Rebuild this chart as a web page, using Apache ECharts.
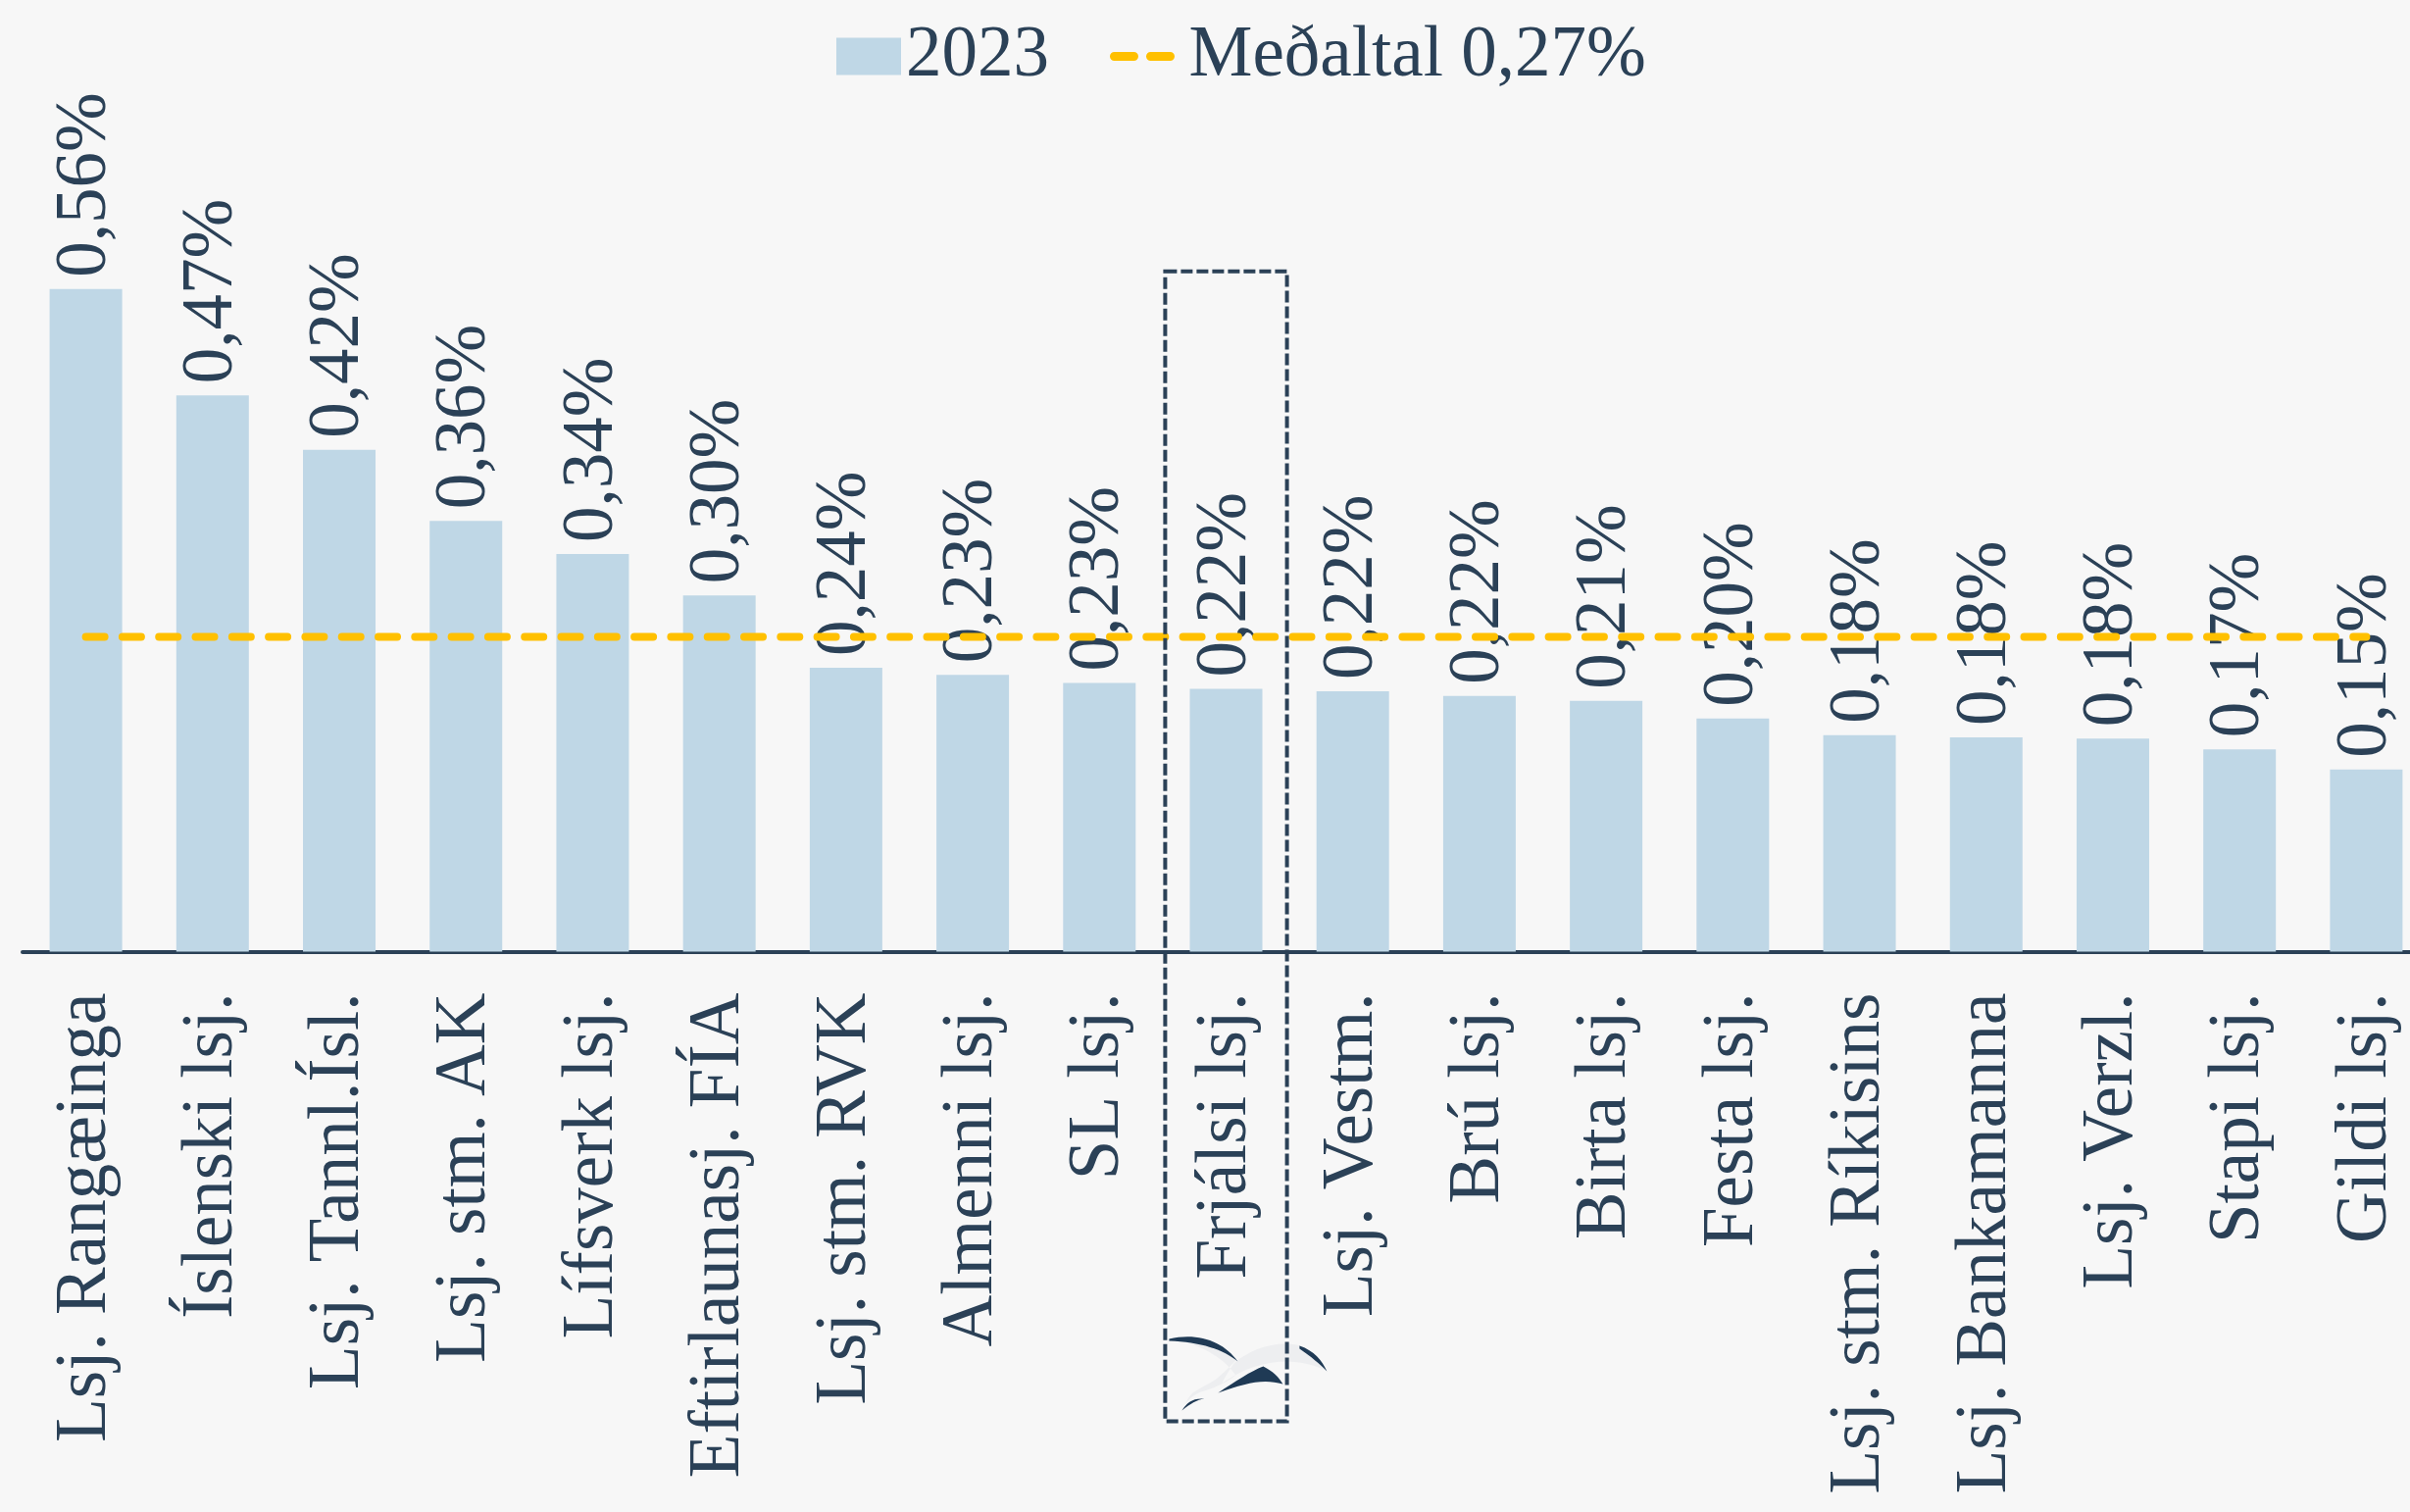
<!DOCTYPE html>
<html>
<head>
<meta charset="utf-8">
<script src="https://cdn.jsdelivr.net/npm/echarts@6/dist/echarts.min.js"></script>
<style>
  html, body { margin: 0; padding: 0; background: #f7f7f7; }
  #chart { width: 2458px; height: 1542px; }
</style>
</head>
<body>
<div id="chart"></div>
<script>
var categories = ['Lsj. Rangæinga', 'Íslenski lsj.', 'Lsj. Tannl.Ísl.', 'Lsj. stm. AK', 'Lífsverk lsj.',
  'Eftirlaunasj. FÍA', 'Lsj. stm. RVK', 'Almenni lsj.', 'SL lsj.', 'Frjálsi lsj.', 'Lsj. Vestm.',
  'Brú lsj.', 'Birta lsj.', 'Festa lsj.', 'Lsj. stm. Ríkisins', 'Lsj. Bankamanna', 'Lsj. Verzl.',
  'Stapi lsj.', 'Gildi lsj.'];
var values2023 = [0.56, 0.47, 0.424, 0.364, 0.336, 0.301, 0.24, 0.234, 0.227, 0.222, 0.22,
  0.216, 0.212, 0.197, 0.183, 0.181, 0.18, 0.171, 0.154];
var meanLine = [0.266, 0.266, 0.266, 0.266, 0.266, 0.266, 0.266, 0.266, 0.266, 0.266,
  0.266, 0.266, 0.266, 0.266, 0.266, 0.266, 0.266, 0.266, 0.266];
var barName = '2023';
var highlighted = 'Frjálsi lsj.';

var navy = '#2b4157';
var fontFamily = '"Liberation Serif", "Times New Roman", serif';

function pct(v) {
  return v.toFixed(2).replace('.', ',') + '%';
}
var meanName = 'Meðaltal ' + pct(meanLine[0]);

// logo pieces (two gulls), drawn at the foot of the highlighted column
echarts.graphic.registerShape('gullLight', echarts.graphic.extendPath(
  'M12,25 C40,20 66,28 80,47 C72,55 66,61 60,66 C50,72 42,76 36,80 C32,84 30,88 28,92 C34,84 40,80 48,78 C60,74 70,70 80,62 C72,50 50,30 12,25 Z ' +
  'M78,50 C96,34 124,26 146,32 C160,38 168,48 173,58 C158,50 138,46 118,49 C100,52 88,56 66,70 C70,62 74,56 78,50 Z', {}));
echarts.graphic.registerShape('gullDark', echarts.graphic.extendPath(
  'M12,25 C42,18 68,28 82,48 C68,36 44,28 12,27 Z ' +
  'M25,98 C30,90 36,85 48,86 C40,87 34,91 25,98 Z ' +
  'M145,32 C160,37 168,47 173,58 C165,50 158,44 145,35 Z ' +
  'M62,80 C80,68 95,58 108,53 C118,58 124,64 128,71 C108,65 90,70 62,80 Z', {}));

var dom = document.getElementById('chart');
var myChart = echarts.init(dom, null, { renderer: 'canvas' });

var option = {
  backgroundColor: '#f7f7f7',
  animation: false,
  textStyle: { fontFamily: fontFamily, color: navy },
  legend: {
    left: 848,
    top: 16,
    itemWidth: 66,
    itemHeight: 38,
    itemGap: 62,
    textStyle: { fontSize: 73, color: navy, fontFamily: fontFamily },
    data: [
      { name: barName, icon: 'rect' },
      {
        name: meanName,
        itemStyle: { opacity: 0 },
        lineStyle: { width: 9, type: [20, 17], cap: 'round', color: '#ffc000' },
        textStyle: { padding: [0, 0, 0, 5] }
      }
    ]
  },
  grid: {
    left: 23,
    right: -20,
    top: 246.5,
    bottom: 571.5,
    outerBoundsMode: 'none',
    containLabel: false
  },
  xAxis: {
    type: 'category',
    data: categories,
    axisTick: { show: false },
    axisLine: { lineStyle: { color: navy, width: 4 } },
    axisLabel: {
      interval: 0,
      rotate: 90,
      margin: 42,
      fontSize: 73,
      color: navy,
      fontFamily: fontFamily
    }
  },
  yAxis: {
    type: 'value',
    min: 0,
    max: 0.6,
    show: false,
    splitLine: { show: false }
  },
  series: [
    {
      name: barName,
      type: 'bar',
      data: values2023,
      barWidth: 74,
      z: 2,
      itemStyle: { color: '#bfd7e6' },
      label: {
        show: true,
        position: 'top',
        rotate: 90,
        align: 'left',
        verticalAlign: 'middle',
        distance: 12,
        fontSize: 73,
        color: navy,
        fontFamily: fontFamily,
        formatter: function (p) { return pct(p.value); }
      }
    },
    {
      name: meanName,
      type: 'line',
      data: meanLine,
      symbol: 'none',
      z: 3,
      lineStyle: { color: '#ffc000', width: 8, type: [19, 18.3], cap: 'round' },
      itemStyle: { color: '#ffc000' }
    }
  ]
};
myChart.setOption(option);

// dashed frame around the highlighted fund
var idx = categories.indexOf(highlighted);
var center = myChart.convertToPixel({ gridIndex: 0 }, [idx, 0]);
var band = myChart.convertToPixel({ gridIndex: 0 }, [1, 0])[0] - myChart.convertToPixel({ gridIndex: 0 }, [0, 0])[0];
var boxTop = myChart.convertToPixel({ gridIndex: 0 }, [idx, 0.575])[1];
var boxBottom = myChart.convertToPixel({ gridIndex: 0 }, [idx, -0.397])[1];
var boxLeft = center[0] - band / 2 + 2.5;
var boxW = band - 5;

myChart.setOption({
  graphic: [
    {
      type: 'rect',
      z: 10,
      shape: { x: boxLeft, y: boxTop, width: boxW, height: boxBottom - boxTop },
      style: { fill: 'none', stroke: navy, lineWidth: 4, lineDash: [12, 4] }
    },
    {
      type: 'group',
      x: boxLeft - 8,
      y: boxBottom - 109,
      z: 11,
      children: [
        { type: 'gullLight', style: { fill: '#edeef0' } },
        { type: 'gullDark', style: { fill: '#1f3a55' } }
      ]
    }
  ]
});
</script>
</body>
</html>
